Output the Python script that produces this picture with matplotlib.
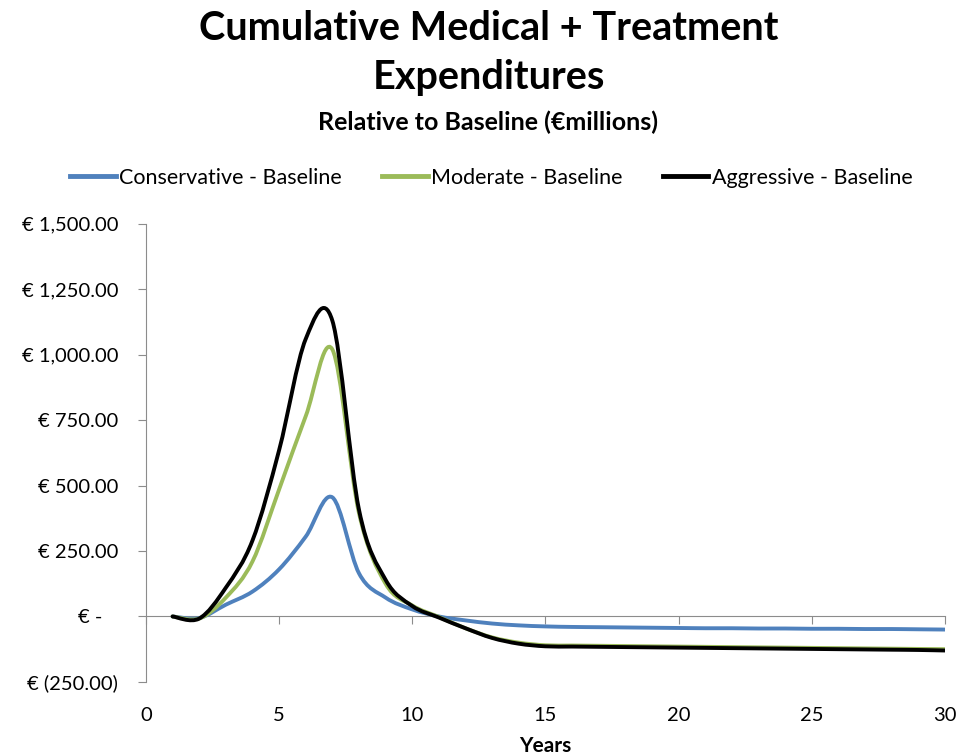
import numpy as np
import matplotlib
matplotlib.use("Agg")
import matplotlib.pyplot as plt
from matplotlib.path import Path
from matplotlib.patches import PathPatch
from matplotlib.lines import Line2D
from matplotlib.ticker import FuncFormatter

plt.rcParams['font.family'] = ['Lato', 'DejaVu Sans']

# data (EUR millions, relative to baseline)
years = list(range(1, 31))
conservative = [0, -6, 45, 95, 180, 305, 455, 165, 72, 27, 0, -15, -27, -34, -38,
                -40, -41, -42, -43, -44, -45, -45, -46, -46, -47, -47, -48, -48, -49, -50]
moderate = [0, -8, 72, 210, 485, 765, 1020, 395, 125, 42, -2, -45, -80, -100, -110,
            -111, -112, -113, -114, -115, -116, -117, -118, -119, -120, -121, -122, -123, -124, -125]
aggressive = [0, -8, 110, 290, 635, 1060, 1130, 408, 140, 40, -4, -45, -82, -104, -114,
              -115, -116, -117, -118, -119, -120, -121, -122, -123, -124, -125, -126, -127, -128, -130]

series = [("Conservative - Baseline", conservative, "#4F81BD"),
          ("Moderate - Baseline", moderate, "#9BBB59"),
          ("Aggressive - Baseline", aggressive, "#000000")]

yticks = [-250, 0, 250, 500, 750, 1000, 1250, 1500]
xticks = [0, 5, 10, 15, 20, 25, 30]


def smooth_path(x, y):
    # excel-like smoothed line: cubic bezier segments through the points
    p = np.column_stack([x, y]).astype(float)
    ext = np.vstack([p[0], p, p[-1]])
    verts = [p[0]]
    codes = [Path.MOVETO]
    for i in range(len(p) - 1):
        c1 = ext[i + 1] + (ext[i + 2] - ext[i]) / 6.0
        c2 = ext[i + 2] - (ext[i + 3] - ext[i + 1]) / 6.0
        verts += [c1, c2, ext[i + 2]]
        codes += [Path.CURVE4] * 3
    return Path(verts, codes)


def euro_fmt(v, pos):
    if v == 0:
        return "€ -   "
    if v < 0:
        return "€ ({:,.2f})".format(-v)
    return "€ {:,.2f}".format(v)


fig = plt.figure(figsize=(9.73, 7.56), dpi=100)
ax = fig.add_axes([0.150, 0.098, 0.821, 0.606])

for name, vals, col in series:
    ax.add_patch(PathPatch(smooth_path(years, vals), facecolor="none", edgecolor=col,
                           lw=2.8, capstyle="round", joinstyle="round", zorder=3))

ax.set_xlim(0, 30)
ax.set_ylim(-250, 1500)
ax.set_yticks(yticks)
ax.yaxis.set_major_formatter(FuncFormatter(euro_fmt))

for s in ["top", "right"]:
    ax.spines[s].set_visible(False)
ax.spines["left"].set_color("#8C8C8C")
ax.spines["bottom"].set_color("#8C8C8C")
ax.spines["bottom"].set_position(("data", 0))
ax.set_xticks(xticks)
ax.tick_params(axis="x", direction="out", length=6, color="#8C8C8C", labelbottom=False)
ax.tick_params(axis="y", direction="out", length=6, color="#8C8C8C", labelsize=14.5, pad=14)

sec = ax.secondary_xaxis(0)
sec.set_xticks(xticks)
sec.tick_params(length=0, labelsize=14.5, pad=18)
sec.spines["bottom"].set_visible(False)
sec.set_xlabel("Years", fontsize=15, fontweight="bold", labelpad=9)

handles = [Line2D([], [], color=c, lw=3.5) for _, _, c in series]
fig.legend(handles, [n for n, _, _ in series], loc="center", bbox_to_anchor=(0.505, 0.765),
           ncol=3, frameon=False, fontsize=15.5, handlelength=2.1, handletextpad=0.15,
           columnspacing=1.9)

fig.text(0.502, 0.962, "Cumulative Medical + Treatment", ha="center", va="center",
         fontsize=28.5, fontweight="bold")
fig.text(0.502, 0.897, "Expenditures", ha="center", va="center", fontsize=28.5, fontweight="bold")
fig.text(0.502, 0.838, "Relative to Baseline (€millions)", ha="center", va="center",
         fontsize=18, fontweight="bold")

fig.savefig("out.png", dpi=100)
